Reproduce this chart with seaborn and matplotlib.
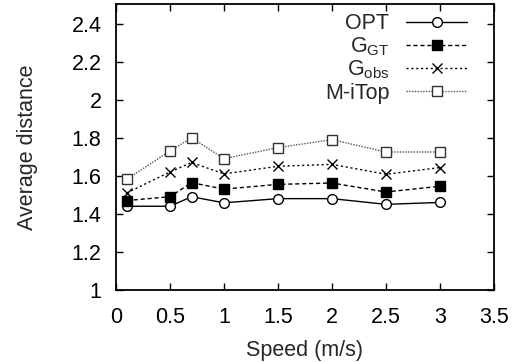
import matplotlib
matplotlib.use("Agg")
import matplotlib.pyplot as plt
import seaborn as sns
import pandas as pd

speed = [0.1, 0.5, 0.7, 1.0, 1.5, 2.0, 2.5, 3.0]
opt = [1.44, 1.44, 1.49, 1.458, 1.48, 1.48, 1.45, 1.46]
g_gt = [1.47, 1.49, 1.564, 1.53, 1.555, 1.562, 1.515, 1.545]
g_obs = [1.51, 1.62, 1.67, 1.61, 1.65, 1.66, 1.608, 1.643]
m_itop = [1.582, 1.73, 1.80, 1.69, 1.748, 1.79, 1.725, 1.725]
labels = ["OPT", r"G$_{\mathrm{GT}}$", r"G$_{\mathrm{obs}}$", "M-iTop"]
xticks = [0, 0.5, 1, 1.5, 2, 2.5, 3, 3.5]
yticks = [1, 1.2, 1.4, 1.6, 1.8, 2, 2.2, 2.4]

sns.set_theme(style="ticks")
plt.rcParams["font.family"] = ["Liberation Sans", "DejaVu Sans"]
plt.rcParams["mathtext.fontset"] = "custom"
plt.rcParams["mathtext.rm"] = "Liberation Sans"
plt.rcParams["mathtext.it"] = "Liberation Sans:italic"

fig = plt.figure(figsize=(5.15, 3.62), dpi=100)
ax = fig.add_axes([0.2252, 0.1989, 0.7338, 0.7887])

series = [opt, g_gt, g_obs, m_itop]
styles = [
    dict(color="black", marker="o", mfc="white", mec="black", linestyle="-", lw=1.0),
    dict(color="black", marker="s", mfc="black", mec="black", linestyle=(0, (3, 2)), lw=1.0),
    dict(color="black", marker="x", mfc="black", mec="black", linestyle=(0, (1.5, 2)), lw=1.0),
    dict(color="#555555", marker="s", mfc="white", mec="#333333", linestyle=(0, (1, 1)), lw=1.0),
]
for vals, lab, st in zip(series, labels, styles):
    df = pd.DataFrame({"x": speed, "y": vals})
    sns.lineplot(data=df, x="x", y="y", ax=ax, label=lab, markersize=7,
                 markeredgewidth=1.0, **st)

ax.set_xlim(0, 3.5)
ax.set_ylim(1, 2.5)
ax.set_xticks(xticks)
ax.set_xticklabels([f"{t:g}" for t in xticks])
ax.set_yticks(yticks)
ax.set_yticklabels([f"{t:g}" for t in yticks])
ax.tick_params(direction="in", length=5, width=1, top=True, right=True,
               labelsize=15.5, colors="black")
ax.tick_params(axis="x", pad=12)
ax.tick_params(axis="y", pad=10.5)
for s in ax.spines.values():
    s.set_linewidth(1.3)
    s.set_color("black")
ax.set_xlabel("Speed (m/s)", fontsize=15.5, labelpad=9)
ax.set_ylabel("Average distance", fontsize=15.5, labelpad=24)

leg = ax.legend(loc="upper right", frameon=False, markerfirst=False,
                fontsize=15.5, handlelength=2.8, handletextpad=0.8,
                labelspacing=0.05, borderaxespad=0.0, bbox_to_anchor=(0.951, 1.0))

fig.savefig("out.png", dpi=100)
